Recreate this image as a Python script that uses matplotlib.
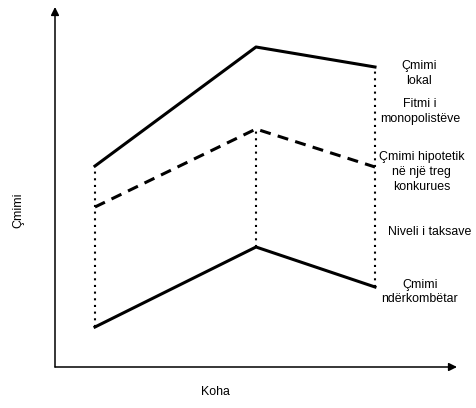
import matplotlib
matplotlib.use("Agg")
import matplotlib.pyplot as plt

# Data (arbitrary price / time units)
time = [40, 201, 320]
local_price = [201, 320, 300]
hypothetical_price = [160, 238, 200]
international_price = [40, 120, 80]

label_local = "Çmimi\nlokal"
label_profit = "Fitmi i\nmonopolistëve"
label_hyp = "Çmimi hipotetik\nnë një treg\nkonkurues"
label_tax = "Niveli i taksave"
label_intl = "Çmimi\nndërkombëtar"

plt.rcParams['font.family'] = ['Liberation Sans', 'DejaVu Sans']

W, H = 476, 408
fig = plt.figure(figsize=(W / 100, H / 100), dpi=100)
ax = fig.add_axes([55 / W, (H - 367) / H, 400 / W, 357 / H])
ax.set_xlim(0, 400)
ax.set_ylim(0, 357)
for s in ax.spines.values():
    s.set_visible(False)
ax.set_xticks([])
ax.set_yticks([])

# axes arrows
ax.annotate("", xy=(0, 360), xytext=(0, 0),
            arrowprops=dict(arrowstyle="-|>", lw=1.1, color="black",
                            mutation_scale=12, shrinkA=0, shrinkB=0),
            annotation_clip=False)
ax.annotate("", xy=(402, 0), xytext=(0, 0),
            arrowprops=dict(arrowstyle="-|>", lw=1.1, color="black",
                            mutation_scale=12, shrinkA=0, shrinkB=0),
            annotation_clip=False)

# dotted verticals
for i, t in enumerate(time):
    top = local_price[i] if i != 1 else hypothetical_price[i]
    ax.plot([t, t], [international_price[i], top], color="black", lw=1.5,
            linestyle=(0, (1, 2.2)), dash_capstyle="butt", clip_on=False)

ax.plot(time, local_price, color="black", lw=2.2, clip_on=False)
ax.plot(time, hypothetical_price, color="black", lw=2.2,
        linestyle=(0, (3.6, 2.4)), clip_on=False)
ax.plot(time, international_price, color="black", lw=2.2, clip_on=False)

fs = 8.9
ls = 1.3
ax.text(364, 293.5, label_local, ha="center", va="center", fontsize=fs, linespacing=ls, clip_on=False)
ax.text(365, 255.5, label_profit, ha="center", va="center", fontsize=fs, linespacing=ls, clip_on=False)
ax.text(366.5, 195, label_hyp, ha="center", va="center", fontsize=fs, linespacing=ls, clip_on=False)
ax.text(375, 135, label_tax, ha="center", va="center", fontsize=fs, linespacing=ls, clip_on=False)
ax.text(365, 75, label_intl, ha="center", va="center", fontsize=fs, linespacing=ls, clip_on=False)

fig.text(18 / W, 1 - 210 / H, "Çmimi", rotation=90, ha="center", va="center", fontsize=fs)
fig.text(215 / W, 1 - 392 / H, "Koha", ha="center", va="center", fontsize=fs)

fig.savefig("out.png", dpi=100)
